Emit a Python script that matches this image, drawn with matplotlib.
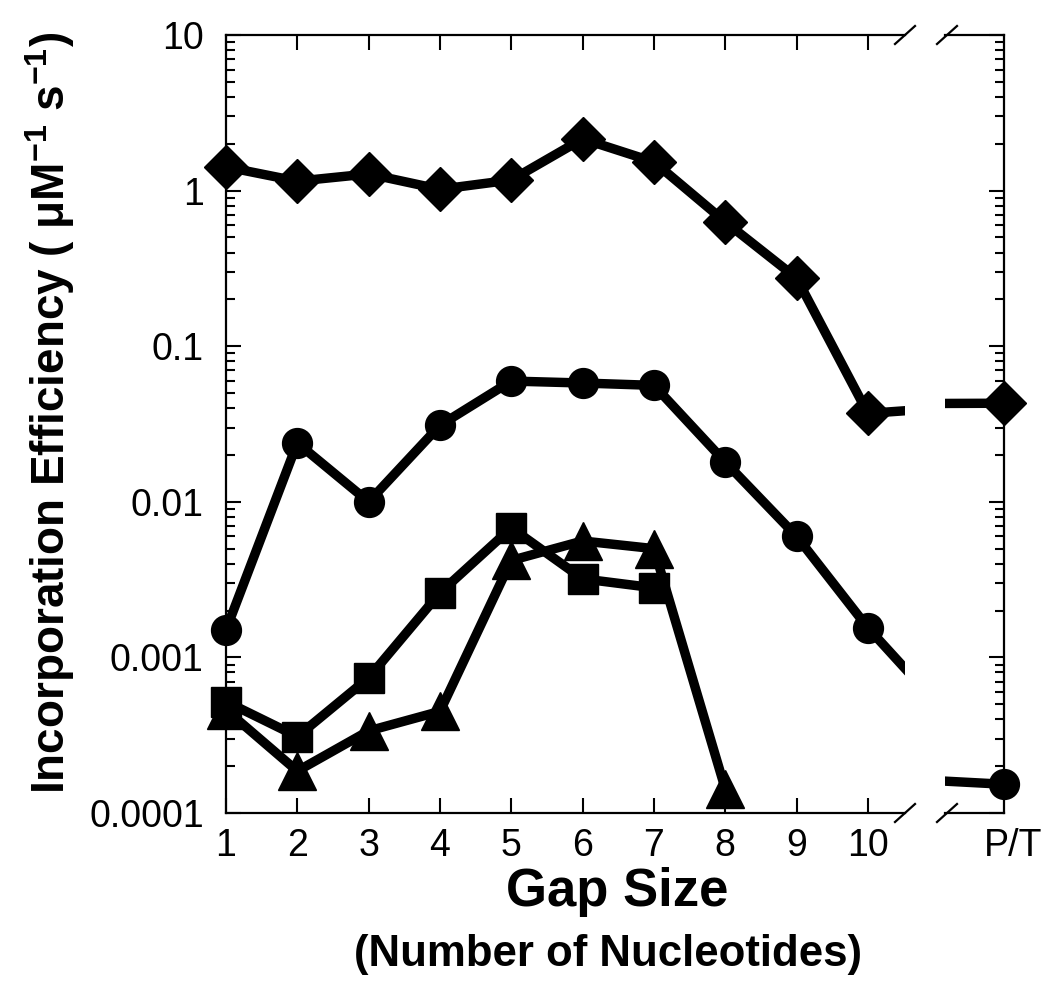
import numpy as np
import matplotlib.pyplot as plt
from matplotlib.ticker import FixedLocator, LogLocator, NullFormatter
from matplotlib.transforms import ScaledTranslation

plt.rcParams['font.family'] = ['Liberation Sans', 'DejaVu Sans']
plt.rcParams['mathtext.fontset'] = 'custom'
plt.rcParams['mathtext.rm'] = 'Liberation Sans:bold'
plt.rcParams['mathtext.bf'] = 'Liberation Sans:bold'

# -------------------------------
# DATA
# -------------------------------
gap = [1, 2, 3, 4, 5, 6, 7, 8, 9, 10]
pt_pos = 12  # where the P/T point sits past the axis break
diamond = [1.42, 1.15, 1.28, 1.02, 1.17, 2.15, 1.53, 0.63, 0.274, 0.037]
diamond_pt = 0.043
circle = [0.0015, 0.0239, 0.0100, 0.031, 0.0597, 0.058, 0.056, 0.018, 0.0060, 0.00155]
circle_pt = 0.000153
square = [0.00052, 0.00031, 0.00074, 0.0026, 0.0068, 0.0032, 0.0028]
triangle = [0.00046, 0.000186, 0.000337, 0.00045, 0.0042, 0.0056, 0.0050, 0.000143]

ytick_vals = [1e-4, 1e-3, 1e-2, 1e-1, 1, 10]
ytick_labels = ['0.0001', '0.001', '0.01', '0.1', '1', '10']

# -------------------------------
# FIGURE
# -------------------------------
W, H = 1050, 988
fig = plt.figure(figsize=(W / 100, H / 100), dpi=100)
ax = fig.add_axes([226 / W, 175 / H, 679 / W, 778 / H])
ax2 = fig.add_axes([945 / W, 175 / H, 59 / W, 778 / H], sharey=ax)

lw = 6.8
series = [
    (diamond, diamond_pt, 'D', 22),
    (circle, circle_pt, 'o', 21.5),
    (square, None, 's', 21),
    (triangle, None, '^', 27),
]
for vals, ptv, mk, ms in series:
    xs = gap[:len(vals)]
    if ptv is not None:
        ax.plot(xs + [pt_pos], vals + [ptv], color='k', lw=lw, solid_joinstyle='miter')
        ax2.plot(xs + [pt_pos], vals + [ptv], color='k', lw=lw)
        ax2.plot([pt_pos], [ptv], ls='none', marker=mk, ms=ms, color='k',
                 clip_on=False, zorder=5)
    else:
        ax.plot(xs, vals, color='k', lw=lw, solid_joinstyle='miter')
    ax.plot(xs, vals, ls='none', marker=mk, ms=ms, color='k', clip_on=False, zorder=5)

# left panel axes
ax.set_yscale('log')
ax.set_ylim(1e-4, 10)
ax.set_xlim(1, 10.52)
ax.spines['right'].set_visible(False)
ax.yaxis.set_major_locator(FixedLocator(ytick_vals))
ax.set_yticklabels(ytick_labels)
ax.yaxis.set_minor_locator(LogLocator(base=10, subs=np.arange(2, 10)))
ax.yaxis.set_minor_formatter(NullFormatter())
ax.set_xticks(gap)
ax.set_xticklabels([str(g) for g in gap])
ax.tick_params(axis='y', which='major', direction='in', length=11, width=1.5,
               left=True, right=False, labelsize=27, pad=16)
ax.tick_params(axis='y', which='minor', direction='in', length=6.5, width=1.5,
               left=True, right=False)
ax.tick_params(axis='x', which='major', direction='in', length=11, width=1.5,
               top=True, bottom=True, labelsize=27, pad=11)

# right panel (P/T)
ax2.set_xlim(pt_pos - 0.04, pt_pos)
ax2.spines['left'].set_visible(False)
ax2.set_xticks([pt_pos])
ax2.set_xticklabels(['P/T'])
ax2.tick_params(axis='x', length=0, labelsize=27, pad=11)
ax2.tick_params(axis='y', which='both', direction='in', left=False, right=True,
                labelleft=False, labelright=False, width=1.5)
ax2.tick_params(axis='y', which='major', length=11)
ax2.tick_params(axis='y', which='minor', length=6.5)
for lab in ax2.get_xticklabels():
    lab.set_transform(lab.get_transform() + ScaledTranslation(0.09, 0, fig.dpi_scale_trans))

for a in (ax, ax2):
    for s in a.spines.values():
        s.set_linewidth(1.6)

# break marks
d = 10
for xpix in (905, 947):
    for ypix in (35, 813):
        fig.add_artist(plt.Line2D([(xpix - d) / W, (xpix + d) / W],
                                  [1 - (ypix + d * 0.9) / H, 1 - (ypix - d * 0.9) / H],
                                  color='k', lw=1.6))

fig.text(50 / W, 1 - 413 / H, 'Incorporation Efficiency ( μM$^{-1}$ s$^{-1}$)',
         rotation=90, ha='center', va='center', fontsize=33, fontweight='bold')
fig.text(617 / W, 1 - 906 / H, 'Gap Size', ha='center', va='baseline', fontsize=38,
         fontweight='bold')
fig.text(608 / W, 1 - 966 / H, '(Number of Nucleotides)', ha='center', va='baseline',
         fontsize=31.5, fontweight='bold')

plt.savefig('out.png', dpi=100)
